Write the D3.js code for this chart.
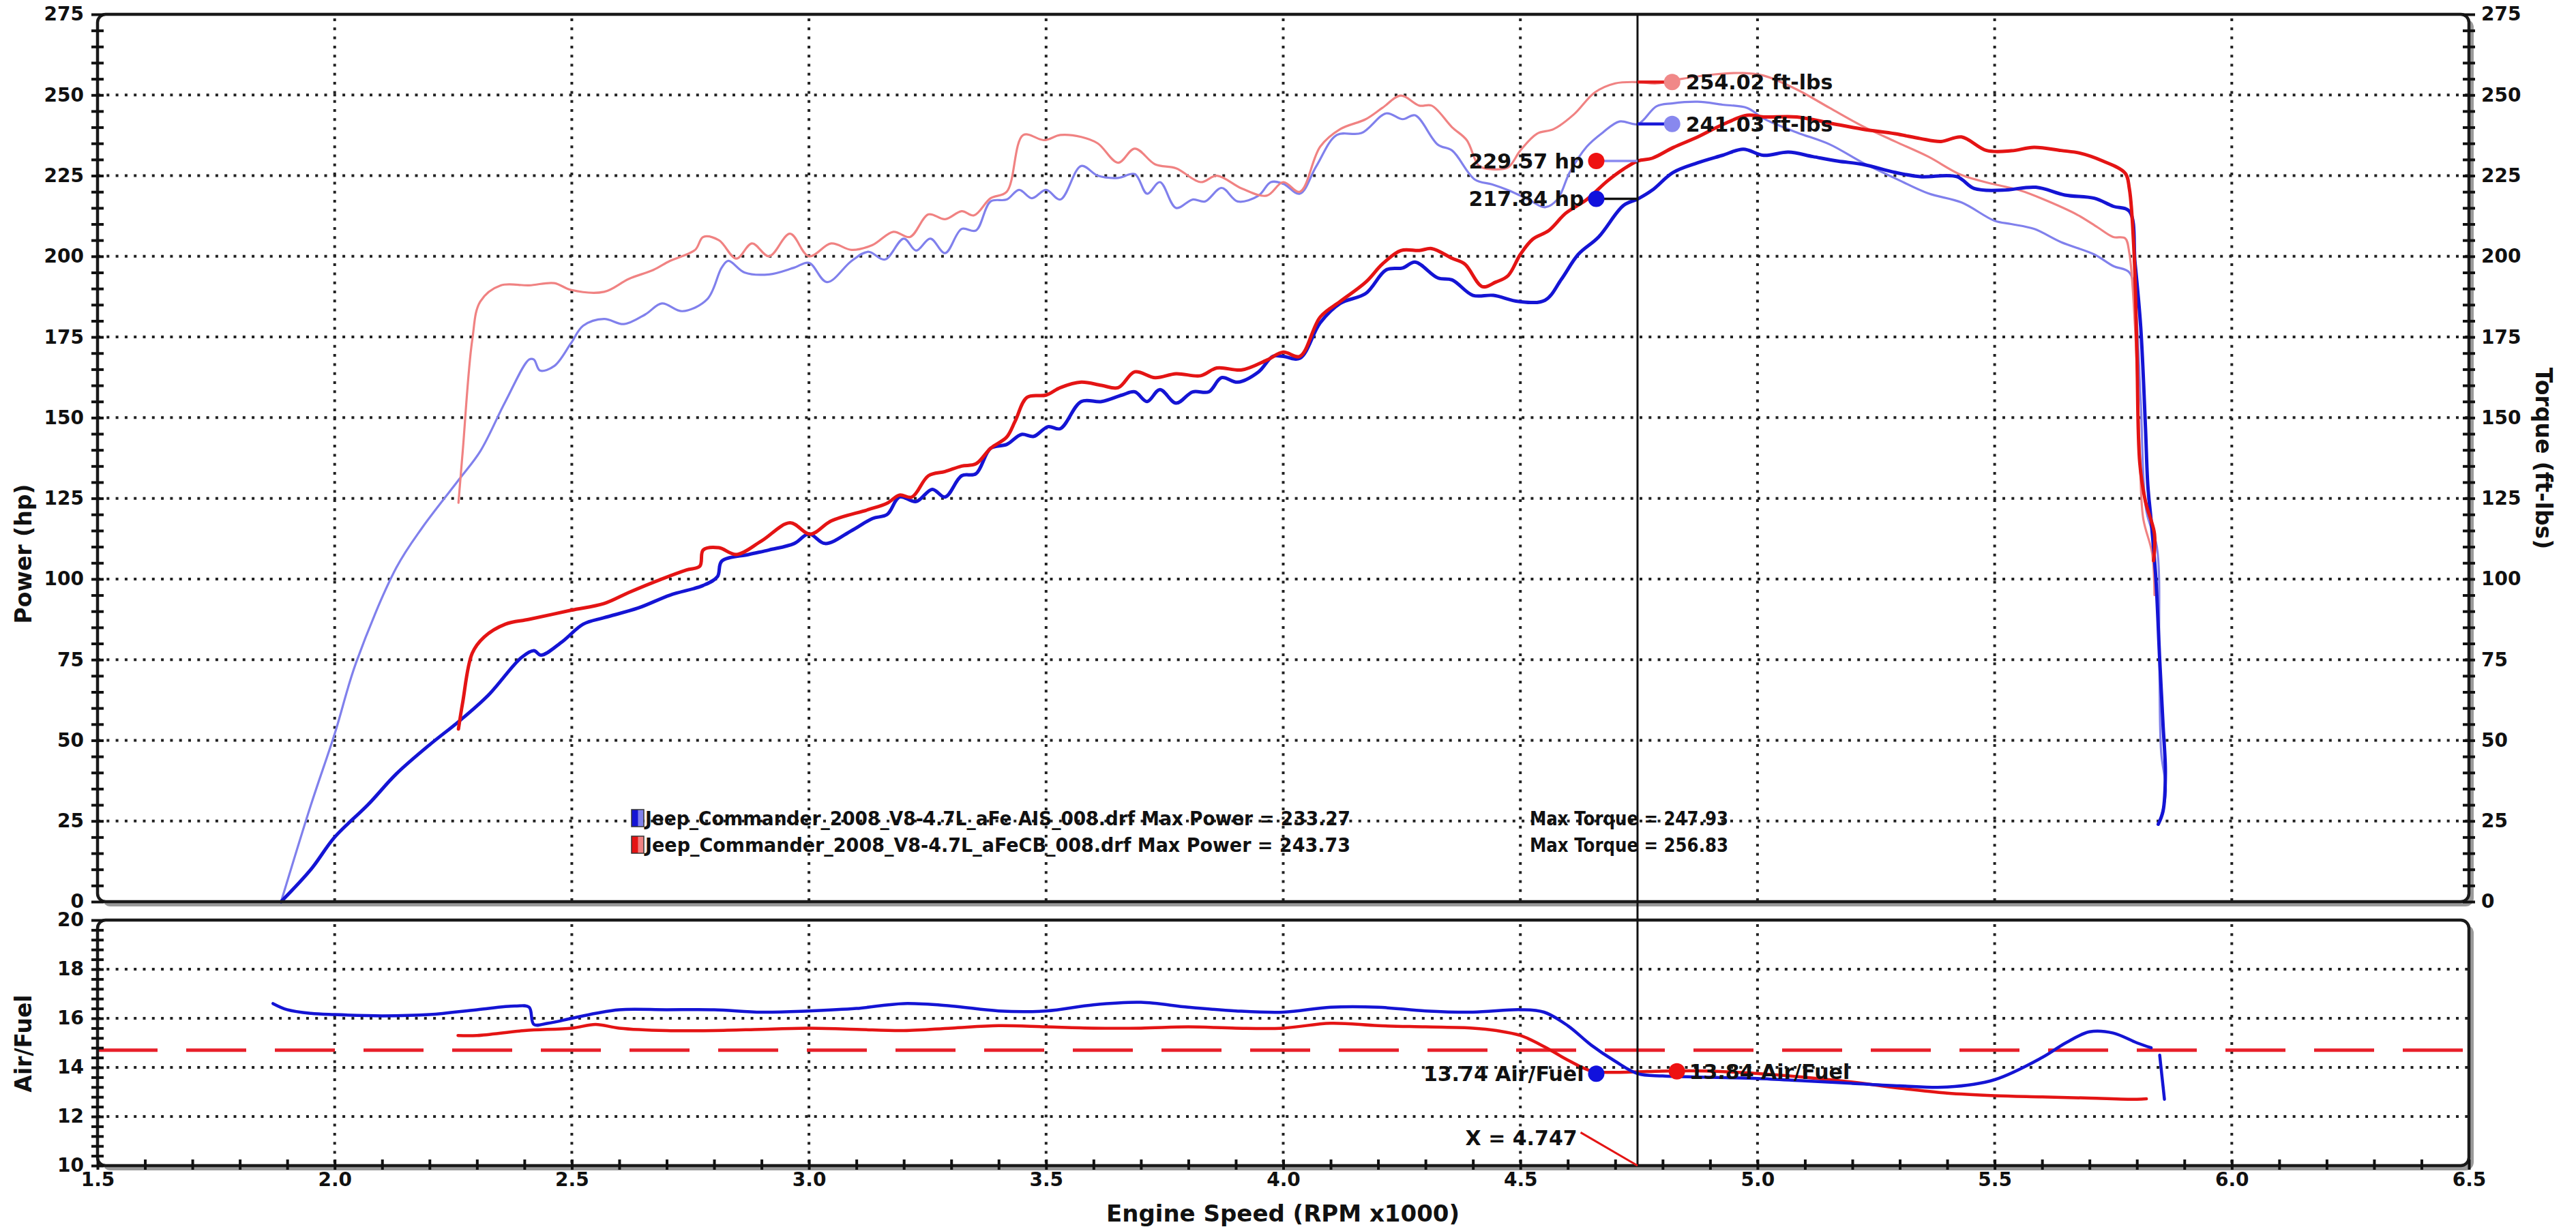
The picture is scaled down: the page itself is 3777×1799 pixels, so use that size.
<!DOCTYPE html>
<html><head><meta charset="utf-8">
<script src="https://cdn.jsdelivr.net/npm/d3@7/dist/d3.min.js"></script>
<style>
html,body{margin:0;padding:0;background:#fff;}
svg text{font-family:"DejaVu Sans",Verdana,sans-serif;font-weight:bold;fill:#111;}
</style></head>
<body><svg id="c" width="3777" height="1799"></svg>
<script>
// ---------------- DATA ----------------
const xTicks = [1.5,2.0,2.5,3.0,3.5,4.0,4.5,5.0,5.5,6.0,6.5];
const powerTicks = [0,25,50,75,100,125,150,175,200,225,250,275];
const afrTicks = [10,12,14,16,18,20];
const cursorRpm = 4.747;
const stoichAfr = 14.7;

const aisPower = [[1.887,0],[1.95,10],[2.0,20],[2.07,30],[2.13,39.6],[2.2,48.6],[2.263,56],[2.324,64],[2.394,75.7],[2.42,77.8],[2.435,76.4],[2.48,80.6],[2.524,86],[2.568,88],[2.64,91],[2.707,95],[2.777,98],[2.807,100.7],[2.816,105.5],[2.873,107.6],[2.916,109],[2.969,111],[3.0,114],[3.034,111],[3.09,115],[3.134,118.75],[3.165,120],[3.191,125.4],[3.226,124],[3.26,127.8],[3.287,125.4],[3.322,132],[3.352,132.6],[3.383,140.5],[3.417,141.7],[3.448,144.8],[3.474,144.2],[3.504,147.2],[3.53,146.6],[3.574,155],[3.617,155],[3.66,157],[3.687,158],[3.713,155],[3.74,158.7],[3.774,154.5],[3.809,158],[3.843,158],[3.87,162.4],[3.904,161],[3.948,164.2],[3.978,169],[4.0,169],[4.035,168.4],[4.078,179.4],[4.12,185.4],[4.174,188.5],[4.217,195.8],[4.252,196.4],[4.278,198.2],[4.326,193.3],[4.356,192.7],[4.4,187.9],[4.443,187.9],[4.496,186],[4.552,186.4],[4.587,193],[4.622,200.6],[4.665,206],[4.717,215.7],[4.748,217.8],[4.778,220.5],[4.822,226],[4.874,229],[4.926,231.3],[4.97,233.2],[5.013,231.3],[5.065,232.3],[5.117,230.9],[5.17,229.5],[5.222,228.5],[5.29,226],[5.343,224.7],[5.42,224.7],[5.457,221],[5.517,220.5],[5.587,221.4],[5.648,219],[5.71,218],[5.75,215.5],[5.784,214],[5.796,198],[5.808,178],[5.818,147],[5.823,129],[5.83,118],[5.84,100],[5.848,75],[5.855,55],[5.86,40],[5.855,28],[5.845,24]];

const cbPower = [[2.261,53.5],[2.27,61.8],[2.29,77],[2.315,82],[2.36,86],[2.41,87.5],[2.498,90.3],[2.568,92.4],[2.62,95.8],[2.69,100],[2.742,102.8],[2.77,104],[2.777,109],[2.81,109.7],[2.847,107.6],[2.9,111.8],[2.96,117.4],[3.003,113.9],[3.047,118],[3.125,121.5],[3.165,123.5],[3.191,126],[3.217,125.4],[3.252,132],[3.287,133.3],[3.322,135],[3.352,135.7],[3.383,140.5],[3.417,144],[3.435,149],[3.46,156.3],[3.5,157],[3.53,159.3],[3.574,161],[3.617,160],[3.652,159.3],[3.687,164.2],[3.73,162.4],[3.774,163.6],[3.826,163],[3.86,165.4],[3.913,164.8],[3.965,167.8],[4.0,170.3],[4.035,169],[4.078,181.2],[4.12,186],[4.174,192],[4.209,197.6],[4.248,201.8],[4.287,201.8],[4.313,202.4],[4.356,199.4],[4.383,197.6],[4.42,190.6],[4.448,192],[4.474,194],[4.5,200.6],[4.526,205.3],[4.56,208],[4.596,213.4],[4.64,217.6],[4.683,223.3],[4.717,227],[4.748,229.6],[4.778,230.4],[4.822,233.7],[4.874,237],[4.926,240.8],[4.978,243.7],[5.013,243.2],[5.083,243.2],[5.152,241.3],[5.222,239.4],[5.29,238],[5.343,236.5],[5.387,235.6],[5.43,237],[5.483,232.8],[5.535,232.7],[5.583,233.8],[5.64,232.8],[5.679,232],[5.727,229.6],[5.775,225.8],[5.784,221],[5.794,201],[5.8,170],[5.806,136],[5.818,124],[5.837,114],[5.835,105.7]];

const aisTorque = [[1.887,0],[1.95,30],[2.0,52],[2.045,74],[2.13,103.5],[2.185,116],[2.263,131],[2.307,139.6],[2.36,155],[2.41,168],[2.42,168],[2.433,164.6],[2.463,166],[2.498,173],[2.524,178.5],[2.568,180.6],[2.61,179],[2.655,182],[2.69,185.4],[2.733,183],[2.786,186.8],[2.816,196.5],[2.83,198.6],[2.864,195],[2.916,194.4],[2.969,196.5],[3.0,198],[3.038,192],[3.09,198.6],[3.125,201.4],[3.16,199],[3.2,205.5],[3.226,201.8],[3.256,205.5],[3.287,201],[3.322,208.5],[3.352,208],[3.383,217],[3.417,217.6],[3.443,220.6],[3.47,218],[3.5,220.6],[3.53,217.6],[3.574,228],[3.609,225],[3.652,224.3],[3.687,225.5],[3.713,219.4],[3.74,223],[3.774,215],[3.809,217.6],[3.835,217],[3.87,221.2],[3.904,217],[3.948,218.8],[3.974,223],[4.0,222.5],[4.035,219.4],[4.07,228],[4.113,237.6],[4.165,238.2],[4.217,244.3],[4.252,242.5],[4.278,243.7],[4.326,234.6],[4.356,232.8],[4.404,223.8],[4.44,222.3],[4.474,220.5],[4.517,217.6],[4.552,215.2],[4.578,217.6],[4.604,226],[4.64,234],[4.674,238.4],[4.709,241.8],[4.748,241.0],[4.787,246.5],[4.82,247.4],[4.874,247.9],[4.926,247],[4.978,246],[5.013,242.7],[5.083,238.4],[5.152,234.7],[5.222,229],[5.29,224.2],[5.36,219.5],[5.43,216.7],[5.5,211],[5.535,210],[5.583,208.5],[5.64,204.4],[5.71,200.6],[5.75,197],[5.784,195],[5.796,186],[5.808,155],[5.82,121],[5.842,110],[5.847,77],[5.851,46.4],[5.861,34],[5.847,24.6]];

const cbTorque = [[2.261,123.6],[2.27,139.6],[2.29,174],[2.307,186],[2.35,191],[2.41,191],[2.463,191.7],[2.498,189.6],[2.568,189],[2.62,193],[2.672,195.8],[2.707,198.6],[2.76,202],[2.777,206],[2.81,205],[2.847,199.3],[2.88,204],[2.916,200],[2.96,207],[3.0,200],[3.047,204],[3.09,202],[3.134,203.5],[3.178,207.6],[3.213,206],[3.252,213],[3.287,211.5],[3.322,214],[3.348,212.7],[3.383,218],[3.417,220],[3.452,237.6],[3.496,236],[3.53,237.6],[3.574,237],[3.609,235],[3.652,229],[3.687,233.4],[3.73,228.5],[3.774,227.3],[3.826,223],[3.86,225],[3.913,221],[3.965,218.8],[4.0,223],[4.035,220],[4.078,234],[4.12,239.4],[4.174,242.5],[4.209,246],[4.248,249.8],[4.287,246.7],[4.313,246.7],[4.356,240],[4.387,236],[4.413,228],[4.44,227],[4.474,227.6],[4.5,232.8],[4.535,238],[4.57,239.4],[4.613,244],[4.657,250.8],[4.7,253.6],[4.748,254.0],[4.787,253.6],[4.84,255],[4.91,256.4],[4.97,256.8],[5.013,256],[5.083,251.7],[5.152,246],[5.222,240.3],[5.29,235.6],[5.36,230.9],[5.43,225.2],[5.5,222.3],[5.552,220.5],[5.604,217.6],[5.674,212.9],[5.717,209],[5.75,206],[5.775,205.6],[5.784,201],[5.796,178],[5.806,140],[5.813,119],[5.832,108],[5.837,95]];

const aisAfr = [[1.87,16.6],[1.9,16.35],[1.95,16.2],[2.0,16.15],[2.1,16.1],[2.2,16.15],[2.3,16.35],[2.38,16.5],[2.41,16.45],[2.42,15.75],[2.45,15.8],[2.5,16.0],[2.55,16.2],[2.6,16.35],[2.7,16.35],[2.8,16.35],[2.9,16.25],[3.0,16.3],[3.1,16.4],[3.2,16.6],[3.3,16.5],[3.4,16.3],[3.5,16.3],[3.6,16.55],[3.7,16.65],[3.8,16.45],[3.9,16.3],[4.0,16.25],[4.1,16.45],[4.2,16.45],[4.3,16.3],[4.4,16.25],[4.5,16.35],[4.55,16.25],[4.6,15.7],[4.65,14.9],[4.7,14.25],[4.747,13.75],[4.8,13.65],[4.9,13.6],[5.0,13.55],[5.1,13.45],[5.2,13.35],[5.3,13.25],[5.4,13.2],[5.5,13.5],[5.6,14.4],[5.65,15.0],[5.7,15.45],[5.75,15.4],[5.8,15.0],[5.83,14.8]];
const aisAfrTail = [[5.848,14.5],[5.853,13.6],[5.858,12.7]];

const cbAfr = [[2.26,15.3],[2.3,15.3],[2.4,15.5],[2.5,15.6],[2.55,15.75],[2.6,15.6],[2.7,15.5],[2.8,15.5],[2.9,15.55],[3.0,15.6],[3.1,15.55],[3.2,15.5],[3.3,15.6],[3.4,15.7],[3.5,15.65],[3.6,15.6],[3.7,15.6],[3.8,15.65],[3.9,15.6],[4.0,15.6],[4.1,15.8],[4.2,15.7],[4.3,15.65],[4.4,15.6],[4.45,15.5],[4.5,15.3],[4.55,14.85],[4.6,14.3],[4.65,13.85],[4.7,13.8],[4.747,13.82],[4.8,13.85],[4.9,13.85],[5.0,13.75],[5.1,13.6],[5.2,13.4],[5.3,13.15],[5.4,12.95],[5.5,12.85],[5.6,12.8],[5.7,12.75],[5.8,12.7],[5.82,12.72]];

const legendNames = ["Jeep_Commander_2008_V8-4.7L_aFe AIS_008.drf Max Power = 233.27","Jeep_Commander_2008_V8-4.7L_aFeCB_008.drf Max Power = 243.73"];
const legendTorque = ["Max Torque = 247.93","Max Torque = 256.83"];
const hpReadout = [{v:229.57,label:"229.57 hp",dot:"#ee1111",line:"#8a8af0"},{v:217.84,label:"217.84 hp",dot:"#1111dd",line:"#111111"}];
const tqReadout = [{v:254.02,label:"254.02 ft-lbs",dot:"#f08888",line:"#e41a1a"},{v:241.03,label:"241.03 ft-lbs",dot:"#8888ee",line:"#1a1ad8"}];
const afrReadout = [{v:13.74,label:"13.74 Air/Fuel",dot:"#1111dd",side:-1},{v:13.84,label:"13.84 Air/Fuel",dot:"#ee1111",side:1}];

// ---------------- LAYOUT ----------------
const L = 143, R = 3620;
const topT = 21, topB = 1322, botT = 1349, botB = 1709;
const x = d3.scaleLinear().domain([1.5,6.5]).range([L,R]);
const yP = d3.scaleLinear().domain([0,275]).range([topB,topT]);
const yA = d3.scaleLinear().domain([10,20]).range([botB,botT]);

const svg = d3.select("#c");
const C = {blue:"#1414d4", red:"#e41414", lblue:"#8080ec", lred:"#f08282"};

// frames with shadow
function frame(t,b){
  svg.append("rect").attr("x",L+7).attr("y",t+7).attr("width",R-L).attr("height",b-t)
    .attr("rx",12).attr("fill","#9a9a9a");
  svg.append("rect").attr("x",L).attr("y",t).attr("width",R-L).attr("height",b-t)
    .attr("rx",12).attr("fill","#fff");
}
frame(topT,topB); frame(botT,botB);

const grid = svg.append("g").attr("stroke","#222").attr("stroke-width",4).attr("stroke-dasharray","4 9.3");
xTicks.slice(1,-1).forEach(v=>{
  grid.append("line").attr("x1",x(v)).attr("x2",x(v)).attr("y1",topT+6).attr("y2",topB);
  grid.append("line").attr("x1",x(v)).attr("x2",x(v)).attr("y1",botT+6).attr("y2",botB);
});
powerTicks.slice(1,-1).forEach(v=>grid.append("line").attr("x1",L).attr("x2",R).attr("y1",yP(v)).attr("y2",yP(v)));
afrTicks.slice(1,-1).forEach(v=>grid.append("line").attr("x1",L).attr("x2",R).attr("y1",yA(v)).attr("y2",yA(v)));

// stoich line
svg.append("line").attr("x1",L).attr("x2",R).attr("y1",yA(stoichAfr)).attr("y2",yA(stoichAfr))
  .attr("stroke","#e8202a").attr("stroke-width",5).attr("stroke-dasharray","88 42");

// curves
const lineP = d3.line().x(d=>x(d[0])).y(d=>yP(d[1])).curve(d3.curveCatmullRom.alpha(0.5));
const lineA = d3.line().x(d=>x(d[0])).y(d=>yA(d[1])).curve(d3.curveCatmullRom.alpha(0.5));
function path(data,gen,color,w,op){
  svg.append("path").attr("d",gen(data)).attr("fill","none").attr("stroke",color)
    .attr("stroke-width",w).attr("stroke-linejoin","round").attr("stroke-linecap","round").attr("opacity",op||1);
}
path(aisTorque,lineP,C.lblue,3.2);
path(cbTorque,lineP,C.lred,3.2);
path(aisPower,lineP,C.blue,5);
path(cbPower,lineP,C.red,5);
path(cbAfr,lineA,C.red,4.5);
path(aisAfr,lineA,C.blue,4.5);
path(aisAfrTail,lineA,C.blue,4.5);

// frame borders on top
function border(t,b){
  svg.append("rect").attr("x",L).attr("y",t).attr("width",R-L).attr("height",b-t)
    .attr("rx",12).attr("fill","none").attr("stroke","#1a1a1a").attr("stroke-width",4.5);
}
border(topT,topB); border(botT,botB);

// axes
const tickStyle = g=>{g.select(".domain").remove(); g.selectAll("text").style("font-size","28px");};
const minorY = g=>{g.select(".domain").remove(); g.selectAll(".tick line").attr("x1",-9).attr("x2",9).attr("stroke","#111").attr("stroke-width",4);};

svg.append("g").attr("transform",`translate(${L},0)`)
  .call(d3.axisLeft(yP).tickValues(d3.range(0,276,5)).tickSize(0).tickFormat("")).call(minorY);
svg.append("g").attr("transform",`translate(${R},0)`)
  .call(d3.axisRight(yP).tickValues(d3.range(0,276,5)).tickSize(0).tickFormat("")).call(minorY);
svg.append("g").attr("transform",`translate(${L},0)`)
  .call(d3.axisLeft(yA).tickValues(d3.range(10,20.01,0.4)).tickSize(0).tickFormat("")).call(minorY);
svg.append("g").attr("transform",`translate(0,${botB})`)
  .call(d3.axisBottom(x).tickValues(d3.range(1.5,6.51,0.1)).tickSize(0).tickFormat(""))
  .call(g=>{g.select(".domain").remove(); g.selectAll(".tick line").attr("y1",-9).attr("y2",6).attr("stroke","#111").attr("stroke-width",4);});

svg.append("g").attr("transform",`translate(${L},0)`)
  .call(d3.axisLeft(yP).tickValues(powerTicks).tickSize(0).tickPadding(20)).call(tickStyle);
svg.append("g").attr("transform",`translate(${R},0)`)
  .call(d3.axisRight(yP).tickValues(powerTicks).tickSize(0).tickPadding(18)).call(tickStyle);
svg.append("g").attr("transform",`translate(${L},0)`)
  .call(d3.axisLeft(yA).tickValues(afrTicks).tickSize(0).tickPadding(20)).call(tickStyle);
svg.append("g").attr("transform",`translate(0,${botB})`)
  .call(d3.axisBottom(x).tickValues(xTicks).tickSize(0).tickPadding(10).tickFormat(d3.format(".1f"))).call(tickStyle);

// titles
svg.append("text").attr("transform",`translate(46,${812}) rotate(-90)`).attr("text-anchor","middle").style("font-size","33px").text("Power (hp)");
svg.append("text").attr("transform",`translate(3718,${672}) rotate(90)`).attr("text-anchor","middle").style("font-size","33px").text("Torque (ft-lbs)");
svg.append("text").attr("transform",`translate(46,${1530}) rotate(-90)`).attr("text-anchor","middle").style("font-size","33px").text("Air/Fuel");
svg.append("text").attr("x",1881).attr("y",1791).attr("text-anchor","middle").style("font-size","34px").text("Engine Speed (RPM x1000)");

// cursor
svg.append("line").attr("x1",x(cursorRpm)).attr("x2",x(cursorRpm)).attr("y1",topT).attr("y2",botB)
  .attr("stroke","#111").attr("stroke-width",3);

// readouts
const hpX = cursorRpm - 0.087, tqX = cursorRpm + 0.073;
hpReadout.forEach(d=>{
  svg.append("line").attr("x1",x(hpX)).attr("x2",x(cursorRpm)).attr("y1",yP(d.v)).attr("y2",yP(d.v)).attr("stroke",d.line).attr("stroke-width",3.5);
  svg.append("circle").attr("cx",x(hpX)).attr("cy",yP(d.v)).attr("r",12).attr("fill",d.dot);
  svg.append("text").attr("x",x(hpX)-18).attr("y",yP(d.v)).attr("dy","0.36em").attr("text-anchor","end").style("font-size","30px").text(d.label);
});
tqReadout.forEach(d=>{
  svg.append("line").attr("x1",x(cursorRpm)).attr("x2",x(tqX)).attr("y1",yP(d.v)).attr("y2",yP(d.v)).attr("stroke",d.line).attr("stroke-width",4.5);
  svg.append("circle").attr("cx",x(tqX)).attr("cy",yP(d.v)).attr("r",12).attr("fill",d.dot);
  svg.append("text").attr("x",x(tqX)+20).attr("y",yP(d.v)).attr("dy","0.36em").style("font-size","30px").text(d.label);
});
afrReadout.forEach(d=>{
  const px = d.side<0 ? hpX : cursorRpm + 0.083;
  svg.append("circle").attr("cx",x(px)).attr("cy",yA(d.v)).attr("r",12).attr("fill",d.dot);
  svg.append("text").attr("x",x(px)+(d.side<0?-18:18)).attr("y",yA(d.v)).attr("dy","0.36em")
    .attr("text-anchor",d.side<0?"end":"start").style("font-size","30px").text(d.label);
});
// X = label
svg.append("line").attr("x1",x(4.627)).attr("y1",yA(11.35)).attr("x2",x(cursorRpm)).attr("y2",yA(10))
  .attr("stroke","#e41414").attr("stroke-width",3);
svg.append("text").attr("x",x(4.62)).attr("y",yA(11.12)).attr("dy","0.36em").attr("text-anchor","end").style("font-size","30px").text("X = " + cursorRpm.toFixed(3));

// legend
const defs = svg.append("defs");
[[C.blue,C.lblue],[C.red,C.lred]].forEach((c,i)=>{
  const g = defs.append("linearGradient").attr("id","lg"+i);
  g.append("stop").attr("offset","0%").attr("stop-color",c[0]);
  g.append("stop").attr("offset","50%").attr("stop-color",c[0]);
  g.append("stop").attr("offset","55%").attr("stop-color",c[1]);
  g.append("stop").attr("offset","100%").attr("stop-color",c[1]);
});
legendNames.forEach((n,i)=>{
  const yy = 1187 + i*39;
  svg.append("rect").attr("x",926).attr("y",yy).attr("width",18).attr("height",25).attr("fill",`url(#lg${i})`).attr("stroke","#333").attr("stroke-width",1.5);
  svg.append("text").attr("x",946).attr("y",yy+23).style("font-size","28px")
    .attr("textLength",1034).attr("lengthAdjust","spacingAndGlyphs").text(n);
  svg.append("text").attr("x",2243).attr("y",yy+23).style("font-size","28px")
    .attr("textLength",291).attr("lengthAdjust","spacingAndGlyphs").text(legendTorque[i]);
});
</script></body></html>
